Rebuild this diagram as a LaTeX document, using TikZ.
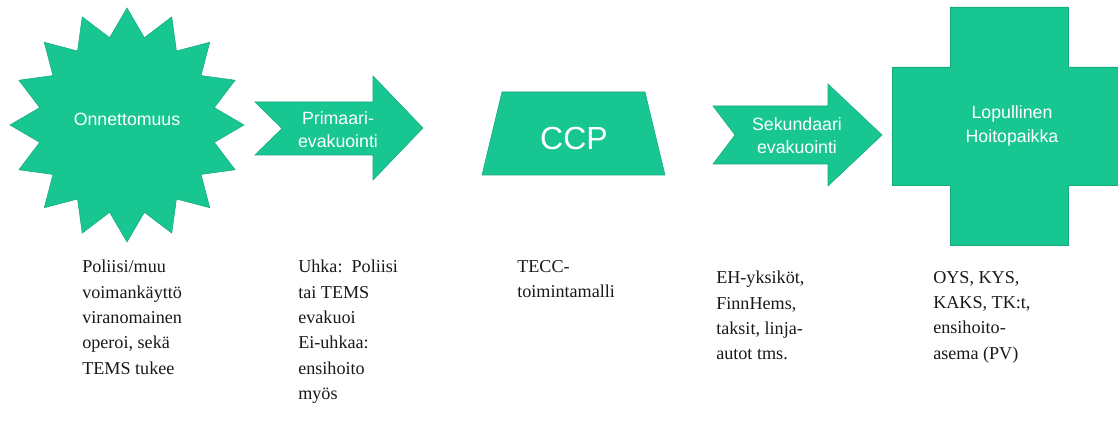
\documentclass[tikz,border=0pt]{standalone}
\usepackage{fontspec}
\usetikzlibrary{calc}
\setmainfont{Liberation Serif}
\newfontfamily\timesf{Liberation Serif}
\newfontfamily\arialf{Liberation Sans}
\definecolor{tealc}{RGB}{24,198,146}
\definecolor{tealedge}{RGB}{22,170,125}
\definecolor{desctext}{RGB}{25,25,25}
\tikzset{
  greenshape/.style={fill=tealc, draw=tealedge, line width=0.4pt, line join=miter},
  lbl/.style={text=white, font=\arialf\fontsize{13.3}{17.5}\selectfont, align=center, inner sep=0pt},
  desc/.style={anchor=north west, inner sep=0pt, align=left, text=desctext,
    font=\timesf\fontsize{13.6}{19}\selectfont},
}
\begin{document}
\begin{tikzpicture}[x=0.75pt, y=-0.75pt]
  \fill[white] (0,0) rectangle (1118,423);
  \useasboundingbox (0,0) rectangle (1118,423);

  % star (Onnettomuus)
  \path[greenshape] ($(127,125)+(90:117)$)
    \foreach \i in {1,...,31} {
      -- ($(127,125)+({90+\i*11.25}:{ifthenelse(mod(\i,2)==0,117,89)})$)
    } -- cycle;
  \node[lbl] (onn) at (127,119) {Onnettomuus};

  % primary arrow
  \path[greenshape] (255,102) -- (373,102) -- (373,76) -- (423,128)
    -- (373,180) -- (373,155) -- (255,155) -- (282,128.5) -- cycle;
  \node[lbl] (prim) at (338,130) {Primaari-\\evakuointi};

  % CCP trapezoid
  \path[greenshape] (502,92) -- (645,92) -- (665,175) -- (482,175) -- cycle;
  \node[text=white, font=\arialf\fontsize{24}{28}\selectfont, inner sep=0pt] (ccp) at (574,138) {CCP};

  % secondary arrow
  \path[greenshape] (713,106) -- (828,106) -- (828,84) -- (882,135)
    -- (828,186) -- (828,164) -- (713,164) -- (735,135) -- cycle;
  \node[lbl] (sek) at (797,135.5) {Sekundaari\\evakuointi};

  % cross
  \path[greenshape] (950,7) -- (1068,7) -- (1068,67) -- (1120,67) -- (1120,185)
    -- (1068,185) -- (1068,245) -- (950,245) -- (950,185) -- (892,185)
    -- (892,67) -- (950,67) -- cycle;
  \node[lbl] (hoito) at (1012,126) {Lopullinen\\Hoitopaikka};

  % descriptions
  \node[desc] (d1) at (82,260) {Poliisi/muu\\voimank\"aytt\"o\\viranomainen\\operoi, sek\"a\\TEMS tukee};
  \node[desc] (d2) at (298,260) {Uhka:\ \ Poliisi\\tai TEMS\\evakuoi\\Ei-uhkaa:\\ensihoito\\my\"os};
  \node[desc] (d3) at (517,260) {TECC-\\toimintamalli};
  \node[desc] (d4) at (716,271) {EH-yksik\"ot,\\FinnHems,\\taksit, linja-\\autot tms.};
  \node[desc] (d5) at (933,271) {OYS, KYS,\\KAKS, TK:t,\\ensihoito-\\asema (PV)};
\end{tikzpicture}
\end{document}
